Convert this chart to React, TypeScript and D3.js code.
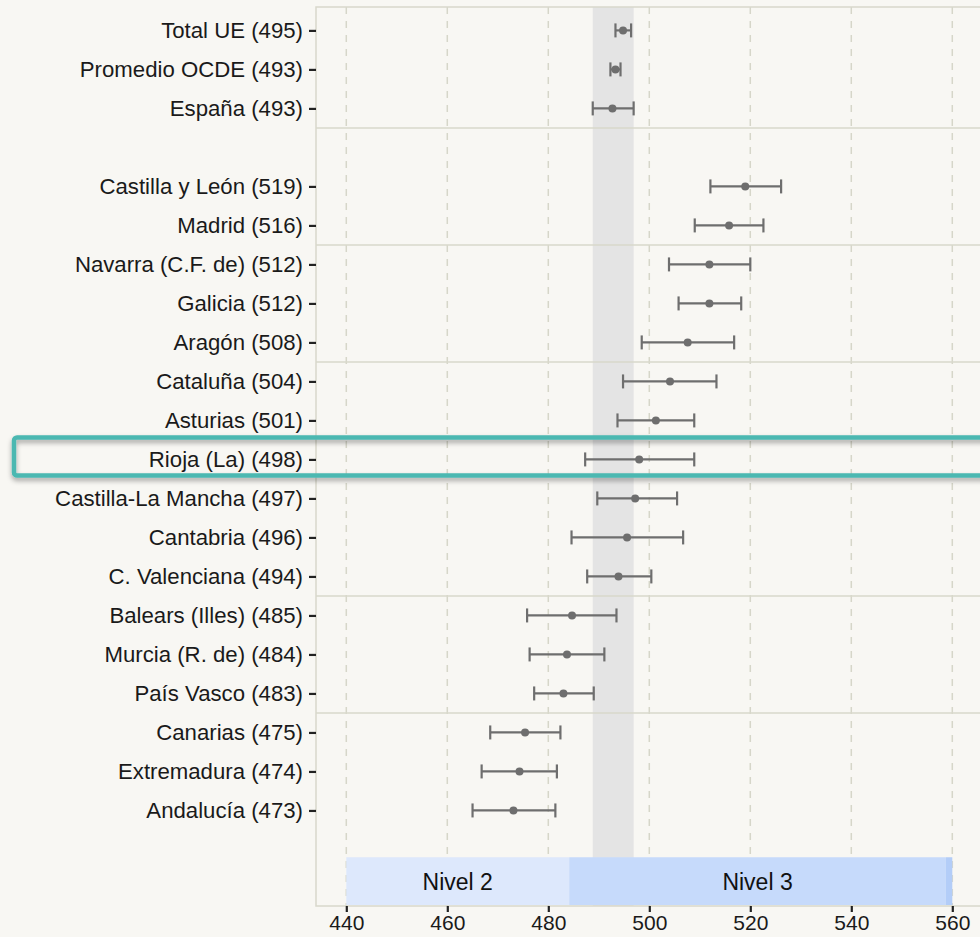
import { useEffect, useRef } from "react";
import * as d3 from "d3";

// regions and reference aggregates (science scores with confidence interval)
const names = [
  "Total UE", "Promedio OCDE", "España",
  "Castilla y León", "Madrid", "Navarra (C.F. de)", "Galicia", "Aragón",
  "Cataluña", "Asturias", "Rioja (La)", "Castilla-La Mancha", "Cantabria",
  "C. Valenciana", "Balears (Illes)", "Murcia (R. de)", "País Vasco",
  "Canarias", "Extremadura", "Andalucía",
];
const scores = [495, 493, 493, 519, 516, 512, 512, 508, 504, 501, 498, 497, 496, 494, 485, 484, 483, 475, 474, 473];
const means = [494.8, 493.3, 492.7, 519.0, 515.8, 511.9, 511.9, 507.6, 504.1, 501.3, 498.0, 497.2, 495.6, 493.9, 484.7, 483.7, 483.0, 475.4, 474.3, 473.1];
const lower = [493.3, 492.3, 488.8, 512.1, 509.0, 503.9, 505.8, 498.5, 494.8, 493.7, 487.3, 489.7, 484.6, 487.7, 475.8, 476.3, 477.2, 468.5, 466.8, 465.0];
const upper = [496.4, 494.3, 496.9, 526.1, 522.6, 520.0, 518.2, 516.8, 513.3, 508.9, 508.9, 505.5, 506.7, 500.4, 493.5, 491.1, 489.0, 482.4, 481.7, 481.4];

const separatorsAfter = ["España", "Madrid", "Aragón", "C. Valenciana", "País Vasco"];
const highlight = "Rioja (La)";
const reference = "España";

// PISA proficiency levels (lower bounds)
const levelNames = ["Nivel 2", "Nivel 3", "Nivel 4"];
const levelFrom = [409.54, 484.14, 558.73];
const levelTo = [484.14, 558.73, 633.33];
const levelColors = ["#dde8fc", "#c6dafb", "#b3cdf8"];

const xTicks = [440, 460, 480, 500, 520, 540, 560];

const W = 980;
const H = 937;
const font = "'Liberation Sans', Arial, Helvetica, sans-serif";

export default function App() {
  const svgRef = useRef<SVGSVGElement | null>(null);

  useEffect(() => {
    if (!svgRef.current) return;
    const svg = d3.select(svgRef.current);
    svg.selectAll("*").remove();

    const left = 316, top = 7, bottom = 906;
    const x = d3.scaleLinear().domain([434, 566]).range([left, left + 132 * 5.05]);
    const y = d3.scaleLinear().domain([-0.6, 22.45]).range([top, bottom]);
    const rowPos = names.map((_, i) => (i < 3 ? i : i + 1));
    const right = x(566);

    const defs = svg.append("defs");
    const clip = defs.append("clipPath").attr("id", "plotclip");
    clip.append("rect").attr("x", left).attr("y", top).attr("width", right - left).attr("height", bottom - top);
    const shadow = defs.append("filter").attr("id", "shadow")
      .attr("x", "-5%").attr("y", "-50%").attr("width", "110%").attr("height", "200%");
    shadow.append("feDropShadow").attr("dx", 0).attr("dy", 3).attr("stdDeviation", 2.5)
      .attr("flood-color", "#000").attr("flood-opacity", 0.35);

    svg.append("rect").attr("width", W).attr("height", H).attr("fill", "#f8f7f3");

    const plot = svg.append("g").attr("clip-path", "url(#plotclip)");

    // reference band (Spain CI)
    const ri = names.indexOf(reference);
    plot.append("rect")
      .attr("x", x(lower[ri])).attr("y", top)
      .attr("width", x(upper[ri]) - x(lower[ri])).attr("height", bottom - top)
      .attr("fill", "#e4e4e4");

    // grid
    plot.selectAll(".grid").data(xTicks).join("line")
      .attr("x1", d => x(d)).attr("x2", d => x(d))
      .attr("y1", top).attr("y2", bottom)
      .attr("stroke", "#d6d6c9").attr("stroke-width", 1.5).attr("stroke-dasharray", "7,7");

    // separators
    plot.selectAll(".sep").data(separatorsAfter).join("line")
      .attr("x1", left).attr("x2", right)
      .attr("y1", d => y(rowPos[names.indexOf(d)] + 0.5))
      .attr("y2", d => y(rowPos[names.indexOf(d)] + 0.5))
      .attr("stroke", "#d8d8cb").attr("stroke-width", 1.5);

    // level bands, clipped to the ticked range
    const bandTop = y(21.2);
    const lv = levelNames.map((n, i) => ({
      n, a: Math.max(levelFrom[i], xTicks[0]), b: Math.min(levelTo[i], xTicks[xTicks.length - 1]), c: levelColors[i],
    })).filter(d => d.b > d.a);
    plot.selectAll(".lvl").data(lv).join("rect")
      .attr("x", d => x(d.a)).attr("width", d => x(d.b) - x(d.a))
      .attr("y", bandTop).attr("height", bottom - bandTop - 1)
      .attr("fill", d => d.c);
    plot.selectAll(".lvlt").data(lv.filter(d => x(d.b) - x(d.a) > 60)).join("text")
      .attr("x", d => (x(d.a) + x(d.b)) / 2).attr("y", (bandTop + bottom) / 2)
      .attr("dy", "0.35em").attr("text-anchor", "middle")
      .attr("font-family", font).attr("font-size", 23).attr("fill", "#111")
      .text(d => d.n);

    // frame
    svg.append("rect").attr("x", left).attr("y", top).attr("width", right - left).attr("height", bottom - top)
      .attr("fill", "none").attr("stroke", "#d8d8cb").attr("stroke-width", 1.5);

    // error bars
    const col = "#6e6e6e";
    const g = svg.append("g");
    names.forEach((_, i) => {
      const cy = y(rowPos[i]);
      g.append("line").attr("x1", x(lower[i])).attr("x2", x(upper[i])).attr("y1", cy).attr("y2", cy)
        .attr("stroke", col).attr("stroke-width", 2.2);
      [lower[i], upper[i]].forEach(v => {
        g.append("line").attr("x1", x(v)).attr("x2", x(v)).attr("y1", cy - 7).attr("y2", cy + 7)
          .attr("stroke", col).attr("stroke-width", 2.2);
      });
      g.append("circle").attr("cx", x(means[i])).attr("cy", cy).attr("r", 4).attr("fill", col);
    });

    // y axis labels
    const yAxis = svg.append("g").attr("transform", `translate(${left},0)`)
      .call(d3.axisLeft(y).tickValues(names.map((_, i) => rowPos[i]))
        .tickFormat((_, i) => `${names[i]} (${scores[i]})`)
        .tickSize(7).tickPadding(6));
    yAxis.select(".domain").remove();
    yAxis.selectAll(".tick line").attr("stroke", "#222").attr("stroke-width", 2.2);
    yAxis.selectAll(".tick text").attr("font-family", font).attr("font-size", 22.2).attr("fill", "#1a1a1a");

    // x axis
    const xAxis = svg.append("g").attr("transform", `translate(0,${bottom})`)
      .call(d3.axisBottom(x).tickValues(xTicks).tickSize(6).tickPadding(3));
    xAxis.select(".domain").remove();
    xAxis.selectAll(".tick line").attr("stroke", "#222").attr("stroke-width", 2.2);
    xAxis.selectAll(".tick text").attr("font-family", font).attr("font-size", 21).attr("fill", "#1a1a1a");

    // highlight box
    const hy = y(rowPos[names.indexOf(highlight)]);
    svg.append("rect")
      .attr("x", 14).attr("y", hy - 22).attr("width", W + 20).attr("height", 38)
      .attr("rx", 3).attr("fill", "none")
      .attr("stroke", "#4bb8b1").attr("stroke-width", 4.5)
      .attr("filter", "url(#shadow)");
  }, []);

  return (
    <svg ref={svgRef} width={W} height={H}
      style={{ position: "absolute", left: 0, top: 0, display: "block" }} />
  );
}
